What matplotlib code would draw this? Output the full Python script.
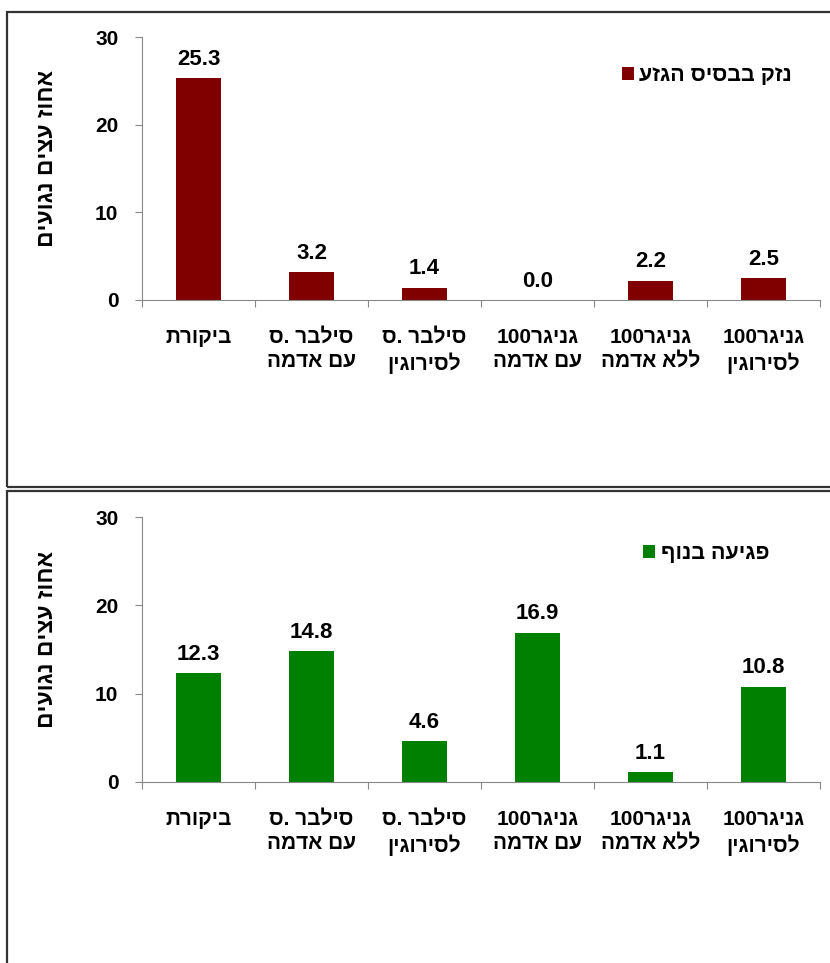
import matplotlib
matplotlib.use('Agg')
import matplotlib.pyplot as plt
from matplotlib.patches import Rectangle

plt.rcParams['font.family'] = ['Liberation Sans', 'DejaVu Sans']
plt.rcParams['font.weight'] = 'bold'


def vis(s):
    # matplotlib has no bidi, so hebrew is given in visual order
    return s[::-1]


line1 = ['ביקורת', 'ס. סילבר', 'ס. סילבר', 'גניגר100', 'גניגר100', 'גניגר100']
line2 = ['', 'עם אדמה', 'לסירוגין', 'עם אדמה', 'ללא אדמה', 'לסירוגין']


def vis_line1(s):
    if s.startswith('ס. '):
        return 'ס. ' + vis(s[3:])
    if s.endswith('100'):
        return '100' + vis(s[:-3])
    return vis(s)


labels = [vis_line1(a) + ('\n' + vis(b) if b else '') for a, b in zip(line1, line2)]

trunk_damage = [25.3, 3.2, 1.4, 0.0, 2.2, 2.5]
canopy_damage = [12.3, 14.8, 4.6, 16.9, 1.1, 10.8]
series_names = ['נזק בבסיס הגזע', 'פגיעה בנוף']
ylabel = 'אחוז עצים נגועים'
yticks = [0, 10, 20, 30]

fig = plt.figure(figsize=(8.3, 9.63), dpi=100)

# panel frames
W, H = 830, 963
for y0, y1 in [(12, 487), (491, 975)]:
    fig.patches.append(Rectangle((7 / W, 1 - y1 / H), 1, (y1 - y0) / H,
                                 transform=fig.transFigure, fill=False,
                                 edgecolor='#333333', linewidth=1.6))

panels = [
    (trunk_damage, '#800000', series_names[0], [0.171, 0.6885, 0.817, 0.273], (0.679, 0.855)),
    (canopy_damage, '#008000', series_names[1], [0.171, 0.188, 0.817, 0.275], (0.711, 0.864)),
]

for vals, color, name, rect, leg_pos in panels:
    ax = fig.add_axes(rect)
    x = range(len(vals))
    bars = ax.bar(x, vals, width=0.4, color=color, label=vis(name))
    for b, v in zip(bars, vals):
        ax.annotate(f'{v:.1f}', (b.get_x() + b.get_width() / 2, v),
                    xytext=(0, 6), textcoords='offset points',
                    ha='center', va='bottom', fontsize=16, fontweight='bold')
    ax.set_xlim(-0.5, len(vals) - 0.5)
    ax.set_ylim(0, 30)
    ax.set_yticks(yticks)
    ax.set_xticks([i - 0.5 for i in range(len(vals) + 1)])
    ax.set_xticklabels([])
    ax.set_xticks(list(x), minor=True)
    ax.set_xticklabels(labels, minor=True, fontsize=15, fontweight='bold',
                       linespacing=1.35, va='top')
    ax.tick_params(axis='x', which='minor', length=0, pad=20)
    ax.tick_params(axis='x', which='major', length=5, color='#888888')
    ax.tick_params(axis='y', length=5, color='#888888', pad=12, labelsize=15)
    for lab in ax.get_yticklabels():
        lab.set_fontweight('bold')
    for s in ['top', 'right']:
        ax.spines[s].set_visible(False)
    for s in ['left', 'bottom']:
        ax.spines[s].set_color('#888888')
    ax.text(-0.14, 0.54, vis(ylabel), transform=ax.transAxes, rotation=90,
            ha='center', va='center', fontsize=16.5, fontweight='bold')
    ax.legend(loc='center left', bbox_to_anchor=leg_pos, frameon=False,
              handlelength=0.55, handleheight=0.55, handletextpad=0.25,
              prop={'size': 15.5, 'weight': 'bold'})

fig.savefig('out.png', dpi=100)
